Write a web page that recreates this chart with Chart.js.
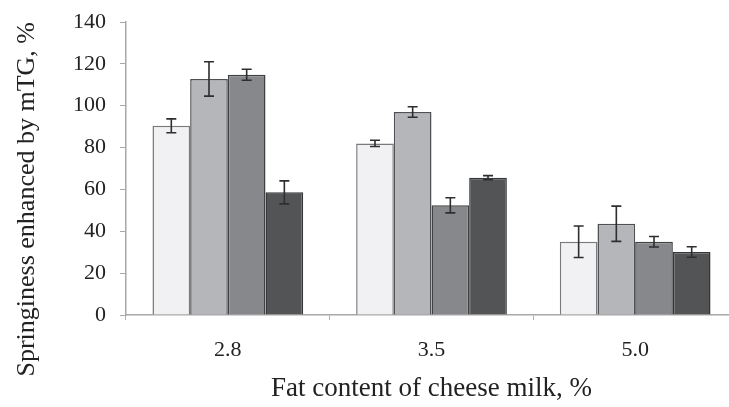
<!DOCTYPE html>
<html lang="en">
<head>
    <meta charset="UTF-8">
    <title>Springiness enhanced by mTG</title>
    <style>
        html, body { margin: 0; padding: 0; overflow: hidden; background: #fff; }
        #wrap { width: 740px; height: 407px; }
    </style>
    <script src="https://cdn.jsdelivr.net/npm/chart.js"></script>
</head>
<body>
    <div id="wrap"><canvas id="myChart"></canvas></div>
    <script>
        // categories (fat content of cheese milk)
        const categories = ['2.8', '3.5', '5.0'];

        // bar heights, one array per series
        const series1 = [90.4, 82.0, 35.0];
        const series2 = [112.8, 97.0, 43.6];
        const series3 = [114.8, 52.4, 35.0];
        const series4 = [58.6, 65.6, 30.1];

        // error bar half-widths
        const err1 = [3.3, 1.5, 7.5];
        const err2 = [8.2, 2.5, 8.4];
        const err3 = [2.6, 3.6, 2.5];
        const err4 = [5.5, 1.0, 2.5];

        const yTicks = [0, 20, 40, 60, 80, 100, 120, 140];

        const serif = "'Liberation Serif', 'Times New Roman', serif";

        const errorBars = {
            id: 'errorBars',
            afterDatasetsDraw(chart) {
                const ctx = chart.ctx;
                const y = chart.scales.y;
                ctx.save();
                ctx.strokeStyle = '#2e2e2e';
                ctx.lineWidth = 1.6;
                chart.data.datasets.forEach((ds, i) => {
                    const meta = chart.getDatasetMeta(i);
                    meta.data.forEach((bar, j) => {
                        const v = ds.data[j];
                        const e = ds.errors[j];
                        const top = y.getPixelForValue(v + e);
                        const bot = y.getPixelForValue(v - e);
                        const cap = 5;
                        ctx.beginPath();
                        ctx.moveTo(bar.x, top);
                        ctx.lineTo(bar.x, bot);
                        ctx.moveTo(bar.x - cap, top);
                        ctx.lineTo(bar.x + cap, top);
                        ctx.moveTo(bar.x - cap, bot);
                        ctx.lineTo(bar.x + cap, bot);
                        ctx.stroke();
                    });
                });
                ctx.restore();
            }
        };

        function makeSet(label, data, errors, fill, border) {
            return {
                label: label,
                data: data,
                errors: errors,
                backgroundColor: fill,
                borderColor: border,
                borderWidth: 1.5,
                barPercentage: 1.0,
                categoryPercentage: 0.74
            };
        }

        const ctx = document.getElementById('myChart').getContext('2d');
        new Chart(ctx, {
            type: 'bar',
            data: {
                labels: categories,
                datasets: [
                    makeSet('Series 1', series1, err1, '#f1f1f3', '#7a7a7c'),
                    makeSet('Series 2', series2, err2, '#b5b6b9', '#4f5052'),
                    makeSet('Series 3', series3, err3, '#86888b', '#404143'),
                    makeSet('Series 4', series4, err4, '#525456', '#353637')
                ]
            },
            plugins: [errorBars],
            options: {
                responsive: true,
                maintainAspectRatio: false,
                animation: false,
                layout: { padding: { top: 22, right: 3, bottom: 0, left: 0 } },
                plugins: {
                    legend: { display: false },
                    tooltip: { enabled: false }
                },
                scales: {
                    x: {
                        afterFit: s => { s.height = 92; },
                        grid: { drawOnChartArea: false, drawTicks: true, tickLength: 5, color: '#b0b0b0' },
                        border: { color: '#a8a8a8', width: 1.5 },
                        ticks: {
                            padding: 17,
                            color: '#222',
                            font: { family: serif, size: 22 }
                        },
                        title: {
                            display: true,
                            text: 'Fat content of cheese milk, %',
                            color: '#222',
                            font: { family: serif, size: 27 },
                            padding: { top: 0, bottom: 2 }
                        }
                    },
                    y: {
                        min: 0,
                        max: 140,
                        afterFit: s => { s.width = 126; s.paddingTop = 0; s.paddingBottom = 0; },
                        afterBuildTicks: s => { s.ticks = yTicks.map(v => ({ value: v })); },
                        grid: { drawOnChartArea: false, drawTicks: true, tickLength: 6, color: '#a8a8a8' },
                        border: { color: '#a8a8a8', width: 1.5 },
                        ticks: {
                            padding: 14,
                            color: '#222',
                            font: { family: serif, size: 22 }
                        },
                        title: {
                            display: true,
                            align: 'end',
                            text: 'Springiness enhanced by mTG, %',
                            color: '#222',
                            font: { family: serif, size: 26 },
                            padding: { top: 12, bottom: 0 }
                        }
                    }
                }
            }
        });
    </script>
</body>
</html>
